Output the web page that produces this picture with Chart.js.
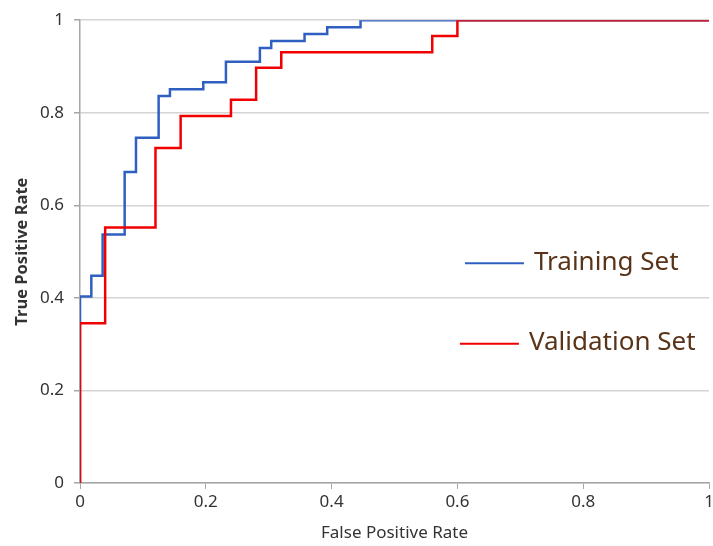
<!DOCTYPE html>
<html>
<head>
<meta charset="utf-8">
<script src="https://cdn.jsdelivr.net/npm/chart.js@4.4.1/dist/chart.umd.min.js"></script>
<style>
  html, body { margin: 0; padding: 0; background: #fff; }
  #wrap { width: 713px; height: 546px; }
</style>
</head>
<body>
<div id="wrap"><canvas id="roc" width="713" height="546"></canvas></div>
<script>
// ROC step points (false positive rate, true positive rate)
var trainFpr = [0, 0, 0.018, 0.036, 0.071, 0.089, 0.125, 0.143, 0.196, 0.232, 0.286, 0.304, 0.357, 0.393, 0.446, 1];
var trainTpr = [0, 0.403, 0.448, 0.537, 0.672, 0.746, 0.836, 0.851, 0.866, 0.910, 0.940, 0.955, 0.970, 0.985, 1, 1];

var validFpr = [0, 0, 0.04, 0.12, 0.16, 0.24, 0.28, 0.32, 0.56, 0.60, 1];
var validTpr = [0, 0.345, 0.552, 0.724, 0.793, 0.828, 0.897, 0.931, 0.966, 1, 1];

var seriesNames = ["Training Set", "Validation Set"];
var seriesColors = ["#2f5fc0", "#f00000"];
var tickValues = [0, 0.2, 0.4, 0.6, 0.8, 1];

function toPoints(xs, ys) {
  var pts = [];
  for (var i = 0; i < xs.length; i++) pts.push({x: xs[i], y: ys[i]});
  return pts;
}

// legend drawn inside the plot, one entry per row
var legendSpots = [[0.612, 0.525], [0.604, 0.699]];
const insideLegend = {
  id: "insideLegend",
  afterDatasetsDraw(chart) {
    const ctx = chart.ctx, a = chart.chartArea;
    ctx.save();
    chart.data.datasets.forEach(function (ds, i) {
      var x = a.left + legendSpots[i][0] * (a.right - a.left);
      var y = a.top + legendSpots[i][1] * (a.bottom - a.top);
      ctx.strokeStyle = ds.borderColor;
      ctx.lineWidth = 2;
      ctx.beginPath();
      ctx.moveTo(x, y);
      ctx.lineTo(x + 59, y);
      ctx.stroke();
      ctx.fillStyle = "#5a3418";
      ctx.font = "26px 'Noto Sans'";
      ctx.textBaseline = "middle";
      ctx.fillText(ds.label, x + 69, y - 1);
    });
    ctx.restore();
  }
};

var rocChart = new Chart("roc", {
  type: "scatter",
  data: {
    datasets: [{
      label: seriesNames[0],
      data: toPoints(trainFpr, trainTpr),
      borderColor: seriesColors[0],
      backgroundColor: seriesColors[0],
      borderWidth: 2.5,
      showLine: true,
      stepped: true,
      pointRadius: 0,
      order: 2
    }, {
      label: seriesNames[1],
      data: toPoints(validFpr, validTpr),
      borderColor: seriesColors[1],
      backgroundColor: seriesColors[1],
      borderWidth: 2.5,
      showLine: true,
      stepped: true,
      pointRadius: 0,
      order: 1
    }]
  },
  options: {
    responsive: false,
    animation: false,
    layout: {padding: {top: 18, right: 4, left: 0, bottom: 0}},
    plugins: {
      legend: {display: false},
      tooltip: {enabled: false}
    },
    scales: {
      x: {
        type: "linear",
        min: 0, max: 1,
        afterBuildTicks: function (s) { s.ticks = tickValues.map(function (v) { return {value: v}; }); },
        afterFit: function (s) { s.height = 63; s.paddingRight = 0; s.paddingLeft = 0; },
        grid: {
          display: true,
          drawOnChartArea: false,
          drawTicks: true,
          tickLength: 6,
          color: "#a6a6a6"
        },
        border: {color: "#a6a6a6", width: 1.5},
        ticks: {
          color: "#333",
          font: {family: "'Noto Sans'", size: 17},
          padding: 3,
          maxRotation: 0,
          callback: function (v) { return String(Math.round(v * 10) / 10); }
        },
        title: {
          display: true,
          text: "False Positive Rate",
          color: "#333",
          font: {family: "'Noto Sans'", size: 17},
          padding: {top: 2, bottom: 3}
        }
      },
      y: {
        type: "linear",
        min: 0, max: 1,
        afterBuildTicks: function (s) { s.ticks = tickValues.map(function (v) { return {value: v}; }); },
        afterFit: function (s) { s.width = 80; },
        grid: {
          color: "#d4d4d4",
          lineWidth: 1.5,
          drawTicks: true,
          tickLength: 6,
          tickColor: "#a6a6a6"
        },
        border: {color: "#a6a6a6", width: 1.5},
        ticks: {
          color: "#333",
          font: {family: "'Noto Sans'", size: 17},
          padding: 10,
          callback: function (v) { return String(Math.round(v * 10) / 10); }
        },
        title: {
          display: true,
          text: "True Positive Rate",
          color: "#333",
          font: {family: "'Noto Sans'", size: 16.5, weight: "bold"},
          padding: {top: 12, bottom: 4}
        }
      }
    }
  },
  plugins: [insideLegend]
});
</script>
</body>
</html>
